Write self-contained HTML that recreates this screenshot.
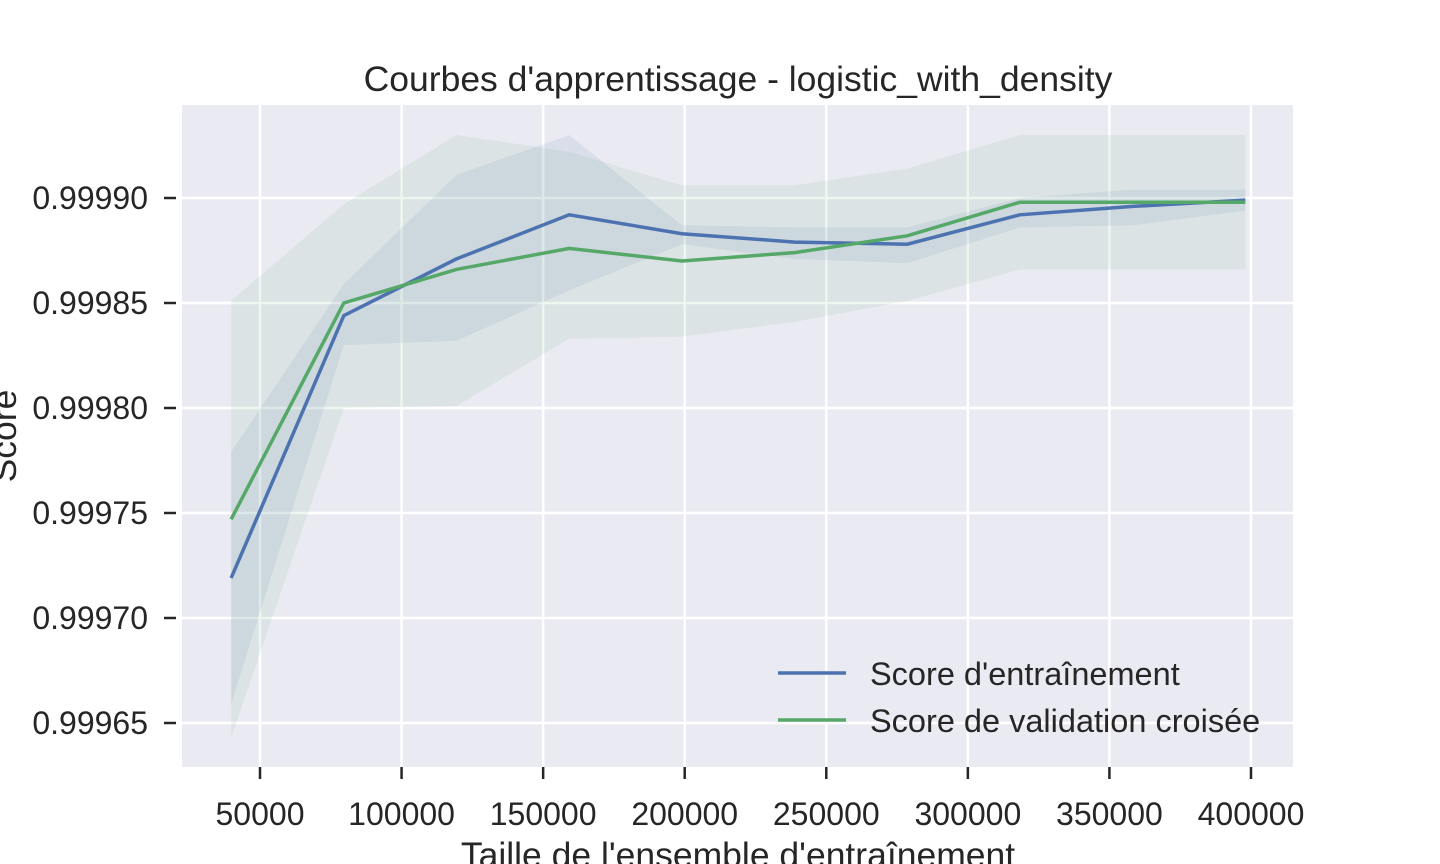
<!DOCTYPE html>
<html><head><meta charset="utf-8"><style>
body{margin:0;background:#fff;}
svg{display:block;font-family:"Liberation Sans","DejaVu Sans",sans-serif;}
</style></head><body>
<svg id="chart" width="1440" height="864">
<rect x="182" y="105" width="1111" height="662" fill="#eaeaf2"/>
<g id="grid"></g><g id="bands"></g><g id="lines"></g><g id="axes"></g>
<text x="738" y="91" font-size="35.5" text-anchor="middle" fill="#262626">Courbes d'apprentissage - logistic_with_density</text>
<text x="738" y="867" font-size="35.5" text-anchor="middle" fill="#262626">Taille de l'ensemble d'entraînement</text>
<text transform="translate(16,436) rotate(-90)" font-size="35.5" text-anchor="middle" fill="#262626">Score</text>
<g>
<line x1="778" y1="673" x2="846" y2="673" stroke="#4c72b0" stroke-width="3.5"/>
<text x="870" y="685" font-size="32.5" fill="#262626">Score d'entraînement</text>
<line x1="778" y1="720" x2="846" y2="720" stroke="#55a868" stroke-width="3.5"/>
<text x="870" y="732" font-size="32.5" fill="#262626">Score de validation croisée</text>
</g>
</svg>
<script>
const sizes=[39800,79600,119400,159200,199000,238800,278600,318400,358200,398000];
const trainMean=[0.999719,0.999844,0.999871,0.999892,0.999883,0.999879,0.999878,0.999892,0.999896,0.999899];
const trainUpper=[0.999779,0.999859,0.999911,0.999930,0.999887,0.999886,0.999886,0.999900,0.999904,0.999904];
const trainLower=[0.999659,0.999830,0.999832,0.999856,0.999878,0.999871,0.999869,0.999886,0.999887,0.999894];
const valMean=[0.999747,0.999850,0.999866,0.999876,0.999870,0.999874,0.999882,0.999898,0.999898,0.999898];
const valUpper=[0.999851,0.999897,0.999930,0.999922,0.999906,0.999906,0.999914,0.999930,0.999930,0.999930];
const valLower=[0.999643,0.999800,0.999801,0.999833,0.999834,0.999841,0.999851,0.999866,0.999866,0.999866];
const xTicks=[50000,100000,150000,200000,250000,300000,350000,400000];
const yTicks=[0.99965,0.99970,0.99975,0.99980,0.99985,0.99990];
const NS="http://www.w3.org/2000/svg";
const X=v=>260+(v-50000)*(141.57/50000);
const Y=v=>198-(v-0.99990)*(105/0.00005);
function mk(t,a,p){const e=document.createElementNS(NS,t);for(const k in a)e.setAttribute(k,a[k]);document.getElementById(p).appendChild(e);return e;}
xTicks.forEach(t=>{
 const g=mk('line',{x1:X(t),x2:X(t),y1:105,y2:767,stroke:'#fff','stroke-width':2.5},'grid');
 
 
 const k=mk('line',{x1:X(t),x2:X(t),y1:767,y2:779,stroke:'#262626','stroke-width':2.5},'axes');
 
 
 const l=mk('text',{x:X(t),y:825,'font-size':32,'text-anchor':'middle',fill:'#262626'},'axes');
 l.textContent=t;
 
 
});
yTicks.forEach(t=>{
 const g=mk('line',{x1:182,x2:1293,y1:Y(t),y2:Y(t),stroke:'#fff','stroke-width':2.5},'grid');
 
 
 const k=mk('line',{x1:164,x2:176,y1:Y(t),y2:Y(t),stroke:'#262626','stroke-width':2.5},'axes');
 
 
 const l=mk('text',{x:148,y:Y(t)+11,'font-size':32,'text-anchor':'end',fill:'#262626'},'axes');
 l.textContent=t.toFixed(5);
 
 
});
function band(up,lo,color,name){
 let d='M'+sizes.map((s,i)=>X(s)+','+Y(up[i])).join('L');
 for(let i=sizes.length-1;i>=0;i--)d+='L'+X(sizes[i])+','+Y(lo[i]);
 const p=mk('path',{d:d+'Z',fill:color,'fill-opacity':0.1},'bands');
 
 
}
function line(m,color,name){
 const p=mk('polyline',{points:sizes.map((s,i)=>X(s)+','+Y(m[i])).join(' '),fill:'none',stroke:color,'stroke-width':3.5},'lines');
 
 
}
band(trainUpper,trainLower,'#4c72b0','train-band');
band(valUpper,valLower,'#55a868','validation-band');
line(trainMean,'#4c72b0','train-line');
line(valMean,'#55a868','validation-line');
</script>
</body></html>
